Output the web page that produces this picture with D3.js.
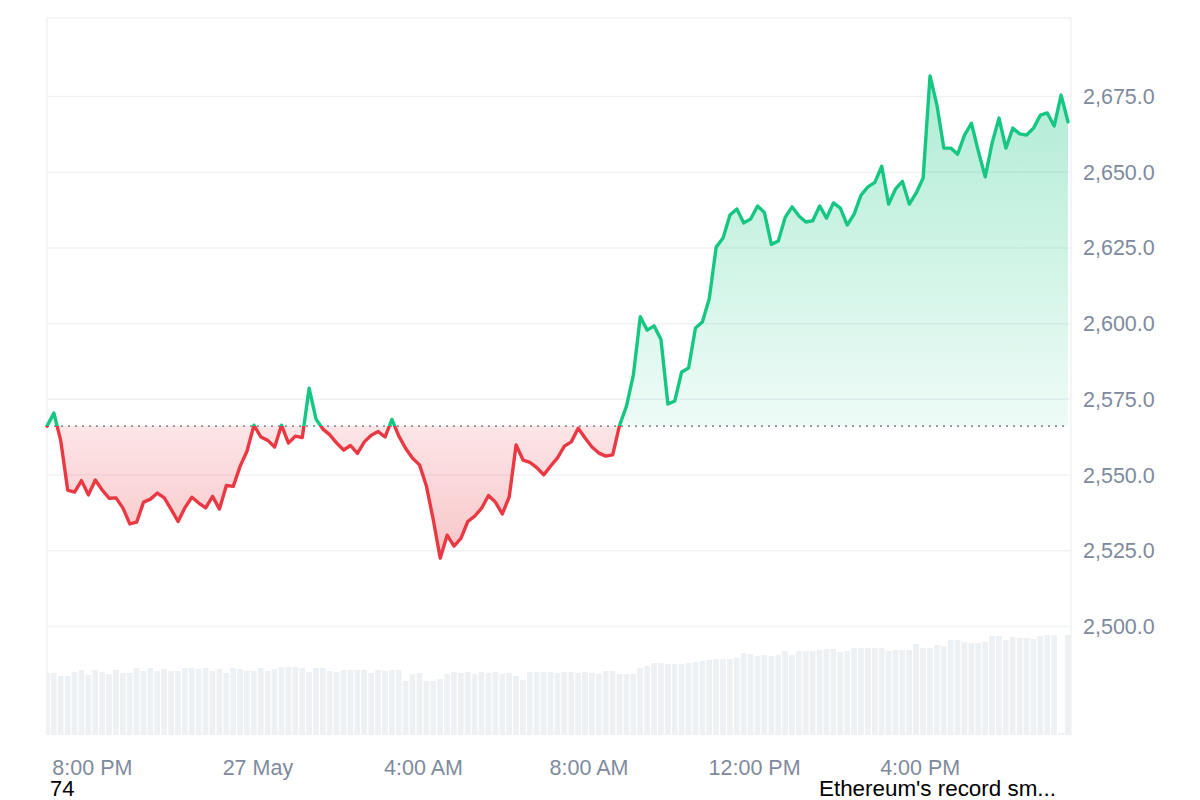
<!DOCTYPE html>
<html><head><meta charset="utf-8">
<script src="https://cdn.jsdelivr.net/npm/d3@7"></script>
<style>
body{margin:0;background:#fff;}
svg text{font-family:"Liberation Sans",Arial,Helvetica,sans-serif;}
</style>
</head><body>
<svg id="chart" width="1200" height="800"></svg>
<script>
// ---------- data ----------
const startTime = "2025-05-26 18:55";
const stepMinutes = 10;
const prices = [
2566.0,2570.3,2561.1,2544.9,2544.2,2548.0,2543.3,2548.2,2544.9,2542.2,
2542.3,2539.0,2533.7,2534.3,2540.9,2541.9,2543.9,2542.3,2538.5,2534.5,
2539.1,2542.5,2540.6,2539.0,2542.8,2538.6,2546.4,2546.1,2552.8,2557.8,
2566.3,2562.4,2561.3,2559.1,2566.3,2560.4,2562.7,2562.2,2578.5,2568.3,
2565.0,2563.1,2560.4,2558.1,2559.6,2557.0,2560.8,2563.0,2564.2,2562.4,
2568.2,2562.7,2558.6,2555.4,2553.2,2546.2,2535.0,2522.4,2530.0,2526.4,
2528.9,2534.5,2536.3,2538.9,2543.1,2540.9,2537.0,2542.6,2559.8,2554.8,
2554.0,2552.3,2549.9,2552.8,2555.5,2559.4,2560.8,2565.3,2562.1,2559.1,
2557.1,2556.1,2556.5,2566.3,2572.6,2582.9,2602.1,2597.7,2599.1,2594.6,
2573.3,2574.3,2583.9,2585.2,2598.4,2600.4,2608.1,2625.1,2628.1,2635.7,
2637.7,2633.1,2634.4,2638.7,2636.5,2626.0,2627.1,2634.9,2638.4,2635.4,
2633.4,2633.8,2638.7,2634.7,2639.7,2638.0,2632.4,2636.0,2642.3,2645.0,
2646.5,2651.8,2639.3,2644.3,2646.8,2639.3,2643.0,2647.9,2681.6,2672.0,
2657.8,2657.8,2655.8,2662.1,2666.0,2656.8,2648.3,2659.5,2667.7,2657.8,
2664.4,2662.5,2662.1,2664.4,2668.7,2669.4,2665.1,2675.3,2666.5
];
const volumes = [
62,62,59,59,63,65,60,65,63,61,
65,62,62,67,64,67,64,66,64,64,
67,67,66,67,64,66,62,67,66,64,
64,67,64,66,68,68,68,67,63,67,
67,64,63,65,65,65,65,62,65,64,
65,65,54,61,62,54,54,56,61,63,
62,63,61,63,62,63,61,62,59,55,
63,63,63,63,62,63,63,62,63,62,
61,64,64,61,61,61,67,69,72,72,
71,71,71,72,73,74,75,76,76,76,
77,82,81,79,80,79,80,84,80,84,
84,84,85,86,86,83,84,87,87,87,
87,87,84,85,85,85,91,87,87,90,
89,95,95,93,92,92,93,99,99,95,
98,97,97,96,99,100,100,2,100
];
const baselinePrice = 2566.0;
const yTicks = [2500,2525,2550,2575,2600,2625,2650,2675];
const xTickTimes = ["2025-05-26 20:00","2025-05-27 00:00","2025-05-27 04:00","2025-05-27 08:00","2025-05-27 12:00","2025-05-27 16:00"];
const xTickLabels = ["8:00 PM","27 May","4:00 AM","8:00 AM","12:00 PM","4:00 PM"];
const footLeft = "74";
const footRight = "Ethereum's record sm...";

// ---------- layout ----------
const L = 47, R = 1071, lineRight = 1068, T = 18, priceBottom = 626, volBottom = 735;
const GREEN = "#16c784", RED = "#ea3943", GRID = "#eff2f5", AXIS = "#808a9d";

const parse = d3.timeParse("%Y-%m-%d %H:%M");
const t0 = parse(startTime);
const data = prices.map((p, i) => ({t: d3.timeMinute.offset(t0, i * stepMinutes), p, v: volumes[i]}));

const svg = d3.select("#chart");
const x = d3.scaleTime().domain([data[0].t, data[data.length - 1].t]).range([L, lineRight]);
const y = d3.scaleLinear().domain([2500, 2675]).range([priceBottom, 96]);
const yVol = d3.scaleLinear().domain([0, 100]).range([volBottom, 635]);
const baseY = y(baselinePrice);

const defs = svg.append("defs");
defs.append("clipPath").attr("id", "plotClip").append("rect")
  .attr("x", L).attr("y", T).attr("width", R - L).attr("height", volBottom - T);
defs.append("clipPath").attr("id", "above").append("rect")
  .attr("x", 0).attr("y", 0).attr("width", 1200).attr("height", baseY);
defs.append("clipPath").attr("id", "below").append("rect")
  .attr("x", 0).attr("y", baseY).attr("width", 1200).attr("height", 800 - baseY);

const gG = defs.append("linearGradient").attr("id", "gGreen")
  .attr("gradientUnits", "userSpaceOnUse").attr("x1", 0).attr("x2", 0).attr("y1", 80).attr("y2", baseY);
gG.append("stop").attr("offset", 0).attr("stop-color", GREEN).attr("stop-opacity", 0.34);
gG.append("stop").attr("offset", 1).attr("stop-color", GREEN).attr("stop-opacity", 0.07);
const gR = defs.append("linearGradient").attr("id", "gRed")
  .attr("gradientUnits", "userSpaceOnUse").attr("x1", 0).attr("x2", 0).attr("y1", baseY).attr("y2", 560);
gR.append("stop").attr("offset", 0).attr("stop-color", RED).attr("stop-opacity", 0.13);
gR.append("stop").attr("offset", 1).attr("stop-color", RED).attr("stop-opacity", 0.29);

// ---------- grid + y axis ----------
const yAxis = d3.axisRight(y).tickValues(yTicks).tickSize(-(R - L)).tickPadding(12)
  .tickFormat(d3.format(",.1f"));
const gy = svg.append("g").attr("transform", `translate(${R},0)`).call(yAxis);
gy.select(".domain").remove();
gy.selectAll(".tick line").attr("stroke", GRID).attr("stroke-width", 1.5);
gy.selectAll(".tick text").attr("fill", AXIS).style("font-size", "21.5px").attr("dy", "0.35em");

// borders
svg.append("line").attr("x1", L).attr("x2", R).attr("y1", T).attr("y2", T).attr("stroke", GRID).attr("stroke-width", 1.5);
svg.append("line").attr("x1", L).attr("x2", L).attr("y1", T).attr("y2", volBottom).attr("stroke", GRID).attr("stroke-width", 1.5);
svg.append("line").attr("x1", R).attr("x2", R).attr("y1", T).attr("y2", volBottom).attr("stroke", GRID).attr("stroke-width", 1.5);

// ---------- volume ----------
const step = x(data[1].t) - x(data[0].t);
svg.append("g").attr("clip-path", "url(#plotClip)")
  .selectAll("rect").data(data).join("rect")
  .attr("x", d => x(d.t) - step / 2 + 0.5)
  .attr("width", step - 1.2)
  .attr("y", d => yVol(d.v))
  .attr("height", d => volBottom - yVol(d.v))
  .attr("fill", "#eef1f4");

// ---------- areas ----------
const area = d3.area().x(d => x(d.t)).y0(baseY).y1(d => y(d.p));
svg.append("path").datum(data).attr("d", area).attr("fill", "url(#gGreen)").attr("clip-path", "url(#above)");
svg.append("path").datum(data).attr("d", area).attr("fill", "url(#gRed)").attr("clip-path", "url(#below)");

// baseline
svg.append("line").attr("x1", L).attr("x2", lineRight).attr("y1", baseY).attr("y2", baseY)
  .attr("stroke", "#8a8f9c").attr("stroke-width", 1.6).attr("stroke-dasharray", "2,5");

// ---------- lines ----------
const line = d3.line().x(d => x(d.t)).y(d => y(d.p));
svg.append("path").datum(data).attr("d", line).attr("fill", "none").attr("stroke", GREEN)
  .attr("stroke-width", 3.4).attr("stroke-linejoin", "round").attr("stroke-linecap", "round").attr("clip-path", "url(#above)");
svg.append("path").datum(data).attr("d", line).attr("fill", "none").attr("stroke", RED)
  .attr("stroke-width", 3.4).attr("stroke-linejoin", "round").attr("stroke-linecap", "round").attr("clip-path", "url(#below)");

// ---------- x axis ----------
const xAxis = d3.axisBottom(x).tickValues(xTickTimes.map(parse))
  .tickFormat((d, i) => xTickLabels[i]).tickSize(0).tickPadding(25);
const gx = svg.append("g").attr("transform", `translate(0,${volBottom})`).call(xAxis);
gx.select(".domain").remove();
gx.selectAll(".tick text").attr("fill", AXIS).style("font-size", "21.5px");

// ---------- footer texts ----------
svg.append("text").attr("x", 50).attr("y", 796).attr("fill", "#000").style("font-size", "22px").text(footLeft);
svg.append("text").attr("x", 819).attr("y", 796).attr("fill", "#000").style("font-size", "22.4px").text(footRight);
</script>
</body></html>
